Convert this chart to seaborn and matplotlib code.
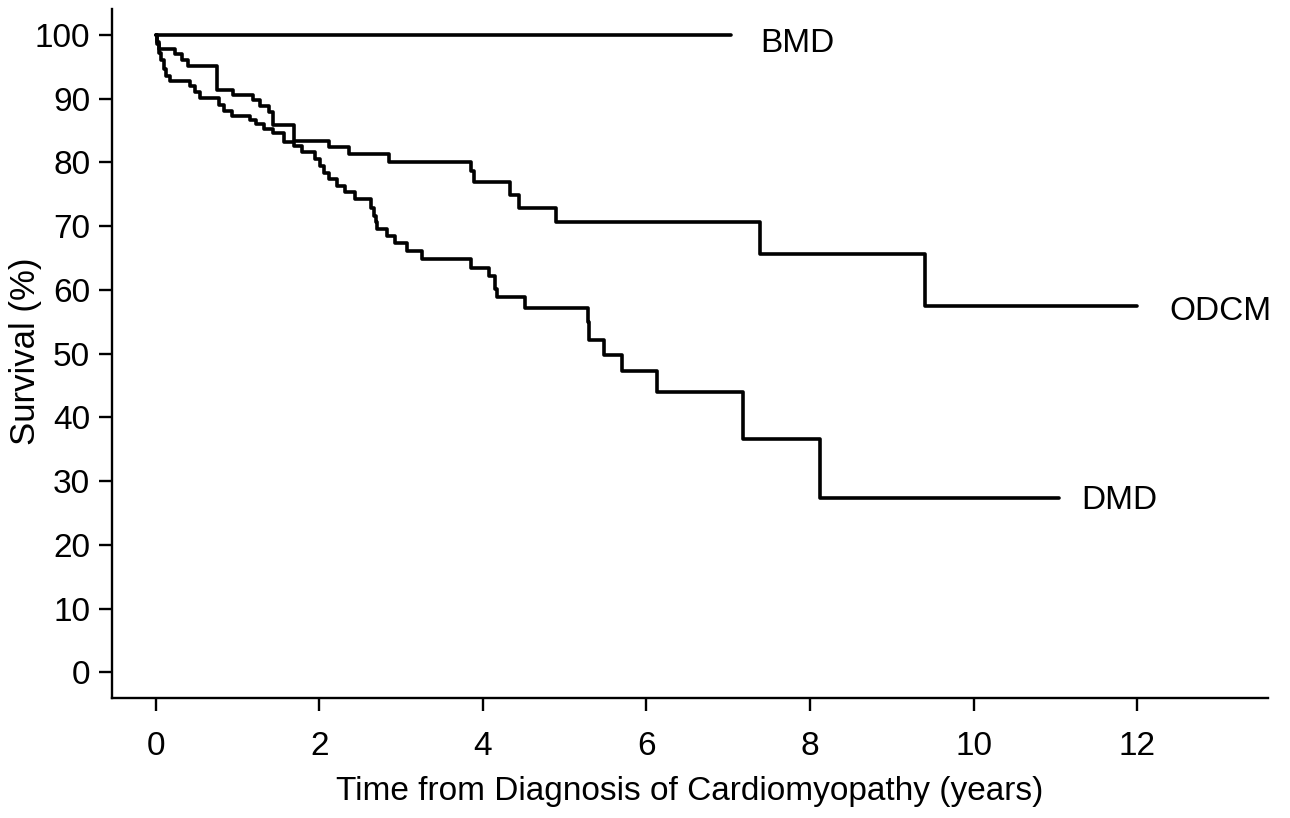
import numpy as np
import pandas as pd
import matplotlib
matplotlib.use("Agg")
import matplotlib.pyplot as plt
import seaborn as sns

# ---- data ----
bmd_time = [0.0, 7.03]
bmd_surv = [100.0, 100.0]

odcm_time = [0.0, 0.02, 0.04, 0.24, 0.32, 0.40, 0.75, 0.95, 1.19, 1.28, 1.38, 1.44,
             1.69, 2.12, 2.36, 2.85, 3.85, 3.89, 4.33, 4.44, 4.90, 7.39, 9.41, 12.0]
odcm_surv = [100.0, 98.9, 97.8, 97.0, 96.0, 95.1, 91.3, 90.5, 89.7, 88.9, 87.9, 85.8,
             83.4, 82.4, 81.3, 80.1, 78.7, 76.9, 74.9, 72.9, 70.6, 65.6, 57.4, 57.4]

dmd_time = [0.0, 0.02, 0.04, 0.07, 0.10, 0.13, 0.18, 0.42, 0.48, 0.54, 0.77, 0.83,
            0.93, 1.15, 1.23, 1.33, 1.44, 1.57, 1.69, 1.79, 1.95, 2.01, 2.06, 2.12,
            2.22, 2.32, 2.44, 2.63, 2.67, 2.69, 2.71, 2.83, 2.93, 3.07, 3.26, 3.85,
            4.07, 4.15, 4.17, 4.51, 5.29, 5.30, 5.48, 5.70, 6.13, 7.18, 8.12, 11.04]
dmd_surv = [100.0, 98.5, 97.2, 96.0, 94.7, 93.5, 92.7, 91.9, 91.1, 90.1, 89.0, 88.0,
            87.2, 86.7, 86.0, 85.3, 84.6, 83.2, 82.6, 81.6, 80.5, 79.5, 78.4, 77.4,
            76.3, 75.3, 74.2, 72.9, 71.6, 70.6, 69.5, 68.5, 67.3, 66.1, 64.9, 63.5,
            62.2, 60.1, 58.8, 57.1, 54.9, 52.2, 49.8, 47.2, 43.9, 36.6, 27.4, 27.4]

group_names = ["BMD", "ODCM", "DMD"]
label_pos_x = [7.39, 12.39, 11.32]
label_pos_y = [98.6, 56.6, 26.9]

x_ticks = [0, 2, 4, 6, 8, 10, 12]
y_ticks = [0, 10, 20, 30, 40, 50, 60, 70, 80, 90, 100]

# ---- style ----
sns.set_style("ticks")
plt.rcParams["font.family"] = ["Liberation Sans", "DejaVu Sans"]

fig = plt.figure(figsize=(12.9, 8.18), dpi=100)
ax = fig.add_axes([0.0866, 0.1463, 0.983 - 0.0866, 0.9886 - 0.1463])

series = [(bmd_time, bmd_surv), (odcm_time, odcm_surv), (dmd_time, dmd_surv)]
for name, (t, s) in zip(group_names, series):
    df = pd.DataFrame({"time": t, "surv": s})
    sns.lineplot(data=df, x="time", y="surv", ax=ax, color="black",
                 linewidth=2.6, drawstyle="steps-post", estimator=None,
                 sort=False)

for name, lx, ly in zip(group_names, label_pos_x, label_pos_y):
    ax.text(lx, ly, name, ha="left", va="center", fontsize=24, color="black")

ax.set_xlim(-0.538, 13.6)
ax.set_ylim(-4.08, 104.0)
ax.set_xticks(x_ticks)
ax.set_yticks(y_ticks)
ax.tick_params(axis="both", direction="out", length=9.5, width=1.7,
               labelsize=24, colors="black", labelcolor="black")
ax.tick_params(axis="y", pad=6)
ax.tick_params(axis="x", pad=14)
for sp in ["left", "bottom"]:
    ax.spines[sp].set_linewidth(1.7)
    ax.spines[sp].set_color("black")
sns.despine(ax=ax)

ax.set_xlabel("Time from Diagnosis of Cardiomyopathy (years)", fontsize=24,
              labelpad=10, color="black")
ax.set_ylabel("Survival (%)", fontsize=25, color="black")
ax.yaxis.set_label_coords(-0.0603, 0.504)

fig.savefig("out.png", dpi=100, facecolor="white")
